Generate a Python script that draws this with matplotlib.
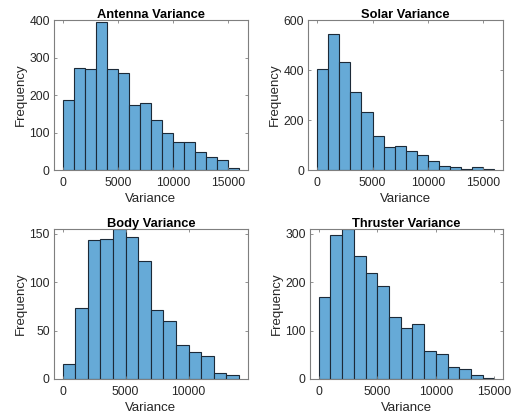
import numpy as np
import matplotlib
matplotlib.use("Agg")
import matplotlib.pyplot as plt

plt.rcParams['font.family'] = ['Liberation Sans', 'DejaVu Sans']

# bin counts, bins are 1000 wide starting at 0
bin_width = 1000
antenna_counts = [188, 273, 270, 395, 270, 258, 173, 178, 133, 100, 75, 75, 47, 34, 28, 5]
solar_counts = [403, 543, 433, 312, 232, 135, 92, 97, 78, 62, 38, 17, 12, 5, 13, 5]
body_counts = [15, 73, 144, 145, 155, 147, 122, 71, 60, 35, 28, 24, 6, 4]
thruster_counts = [170, 297, 310, 255, 220, 192, 128, 105, 113, 58, 51, 24, 20, 8, 2]

titles = ["Antenna Variance", "Solar Variance", "Body Variance", "Thruster Variance"]
all_counts = [antenna_counts, solar_counts, body_counts, thruster_counts]
y_tops = [400, 600, 155, 310]
y_ticks = [[0, 100, 200, 300, 400], [0, 200, 400, 600], [0, 50, 100, 150], [0, 100, 200, 300]]
x_ticks = [[0, 5000, 10000, 15000], [0, 5000, 10000, 15000], [0, 5000, 10000], [0, 5000, 10000, 15000]]

# axes rectangles in figure fraction (left, bottom, width, height)
positions = [
    [0.105, 0.594, 0.378, 0.358],
    [0.601, 0.594, 0.380, 0.358],
    [0.105, 0.0955, 0.378, 0.358],
    [0.604, 0.0955, 0.377, 0.358],
]

bar_color = (0.0 * 0.6 + 0.4, 0.447 * 0.6 + 0.4, 0.741 * 0.6 + 0.4)
text_gray = '#262626'
axis_gray = '#7f7f7f'

fig = plt.figure(figsize=(5.13, 4.19), dpi=100)

for i in range(4):
    ax = fig.add_axes(positions[i])
    counts = np.array(all_counts[i])
    edges = np.arange(len(counts) + 1) * bin_width
    ax.bar(edges[:-1], counts, width=bin_width, align='edge',
           color=bar_color, edgecolor='#1c2a38', linewidth=0.8)

    span = edges[-1]
    ax.set_xlim(-0.05 * span, 1.05 * span)
    ax.set_ylim(0, y_tops[i])
    ax.set_xticks(x_ticks[i])
    ax.set_yticks(y_ticks[i])

    ax.set_title(titles[i], fontsize=9.3, fontweight='bold', pad=1.5)
    ax.set_xlabel("Variance", fontsize=9.5, color=text_gray, labelpad=3)
    ax.set_ylabel("Frequency", fontsize=9.5, color=text_gray, labelpad=2)

    ax.tick_params(direction='in', length=2.5, width=0.6, colors=axis_gray,
                   labelcolor=text_gray, labelsize=8.7, top=True, right=True)
    ax.tick_params(axis='x', pad=5)
    ax.tick_params(axis='y', pad=3)
    for s in ax.spines.values():
        s.set_color(axis_gray)
        s.set_linewidth(0.8)

fig.savefig("out.png", dpi=100)
